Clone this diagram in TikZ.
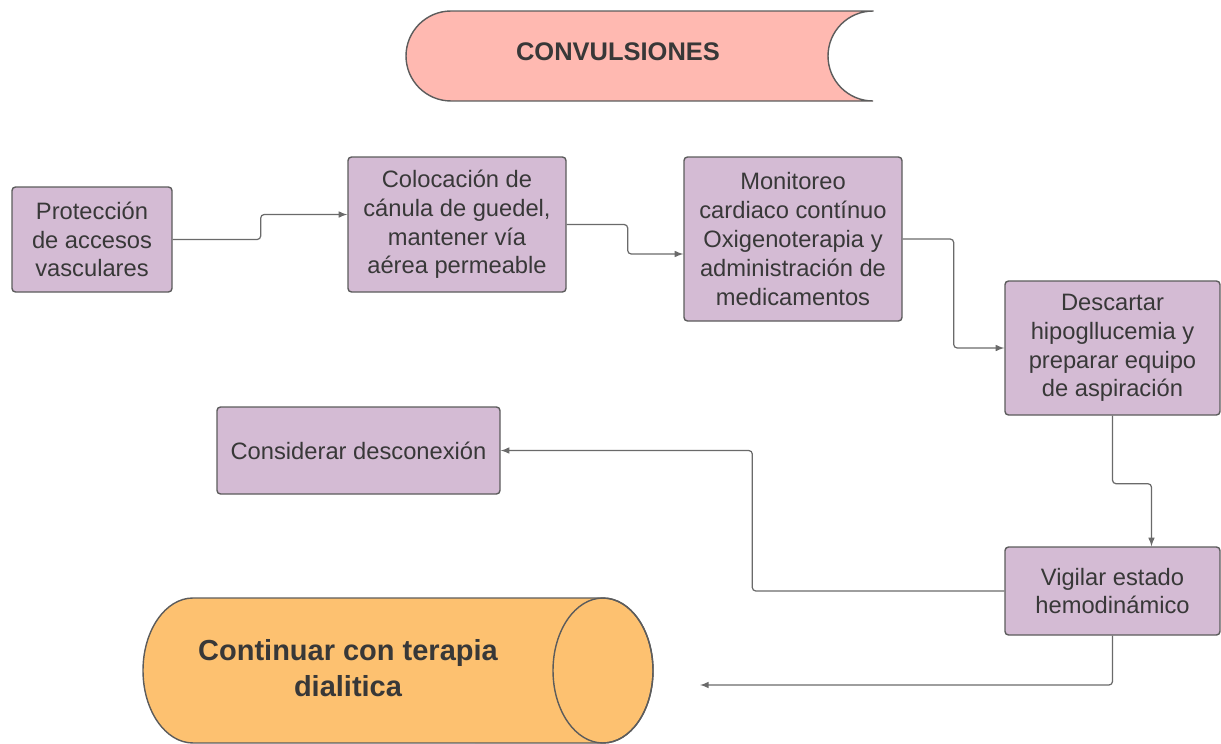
\documentclass[tikz,border=0pt]{standalone}
\usepackage{fontspec}
\setmainfont{Liberation Sans}
\usetikzlibrary{arrows}
\definecolor{lila}{HTML}{D4BBD4}
\definecolor{rosa}{HTML}{FFB9B1}
\definecolor{orangeton}{HTML}{FDC170}
\definecolor{rand}{HTML}{5C5C5C}
\definecolor{schrift}{HTML}{383838}
\definecolor{pfeilgrau}{HTML}{6A6A6A}
\def\px{0.02}

\begin{document}
\begin{tikzpicture}[>=latex,x=\px cm,y=-\px cm,
	kasten/.style={draw=rand,fill=lila,rounded corners=2pt,line width=0.8pt,
		text=schrift,align=center,inner sep=0pt,
		font=\fontsize{13.5}{16.4}\selectfont},
	pfeil/.style={->,draw=pfeilgrau,line width=0.7pt,rounded corners=2pt}]

\useasboundingbox (0,0) rectangle (1221,744);

% Titel
\filldraw[fill=rosa,draw=rand,line width=0.8pt]
	(873,11) -- (451,11) arc[start angle=90,end angle=270,radius=0.9cm]
	-- (873,101) arc[start angle=270,end angle=90,radius=0.9cm] -- cycle;
\node[text=schrift,font=\fontsize{14.5}{17}\selectfont\bfseries] (titel) at (618,52) {CONVULSIONES};

% Kaesten
\node[kasten,minimum width=160*\px cm,minimum height=105*\px cm] (schutz) at (92,239.5)
	{Protección\\de accesos\\vasculares};
\node[kasten,minimum width=218*\px cm,minimum height=135*\px cm] (kanuele) at (457,224.5)
	{Colocación de\\cánula de guedel,\\mantener vía\\aérea permeable};
\node[kasten,minimum width=218*\px cm,minimum height=164*\px cm] (monitor) at (793,239)
	{Monitoreo\\cardiaco contínuo\\Oxigenoterapia y\\administración de\\medicamentos};
\node[kasten,minimum width=215*\px cm,minimum height=134*\px cm] (glukose) at (1112.5,348)
	{Descartar\\hipogllucemia y\\preparar equipo\\de aspiración};
\node[kasten,minimum width=283*\px cm,minimum height=87*\px cm] (trennung) at (358.5,450.5)
	{Considerar desconexión};
\node[kasten,minimum width=215*\px cm,minimum height=88*\px cm] (vigilar) at (1112.5,591)
	{Vigilar estado\\hemodinámico};

% Zylinder
\filldraw[fill=orangeton,draw=rand,line width=0.8pt]
	(603,598) -- (193,598) arc[start angle=90,end angle=270,x radius=1cm,y radius=1.45cm]
	-- (603,743) arc[start angle=-90,end angle=90,x radius=1cm,y radius=1.45cm] -- cycle;
\draw[draw=rand,line width=0.8pt] (603,670.5) ellipse[x radius=1cm,y radius=1.45cm];
\node[text=schrift,align=center,font=\fontsize{16.5}{20.4}\selectfont\bfseries] (therapie) at (348,668)
	{Continuar con terapia\\dialitica};

% Pfeile
\coordinate (ende) at (700,685);
\draw[pfeil] (schutz.east) -- ++(88,0) |- ([yshift=0.2cm]kanuele.west);
\draw[pfeil] (kanuele.east) -- ++(61,0) |- ([yshift=-0.3cm]monitor.west);
\draw[pfeil] (monitor.east) -- ++(51,0) |- (glukose.west);
\draw[pfeil] (glukose.south) -- ++(0,68) -| ([xshift=0.78cm]vigilar.north);
\draw[pfeil] (vigilar.west) -- ++(-252,0) |- (trennung.east);
\draw[pfeil] (vigilar.south) |- (ende);

\end{tikzpicture}
\end{document}
